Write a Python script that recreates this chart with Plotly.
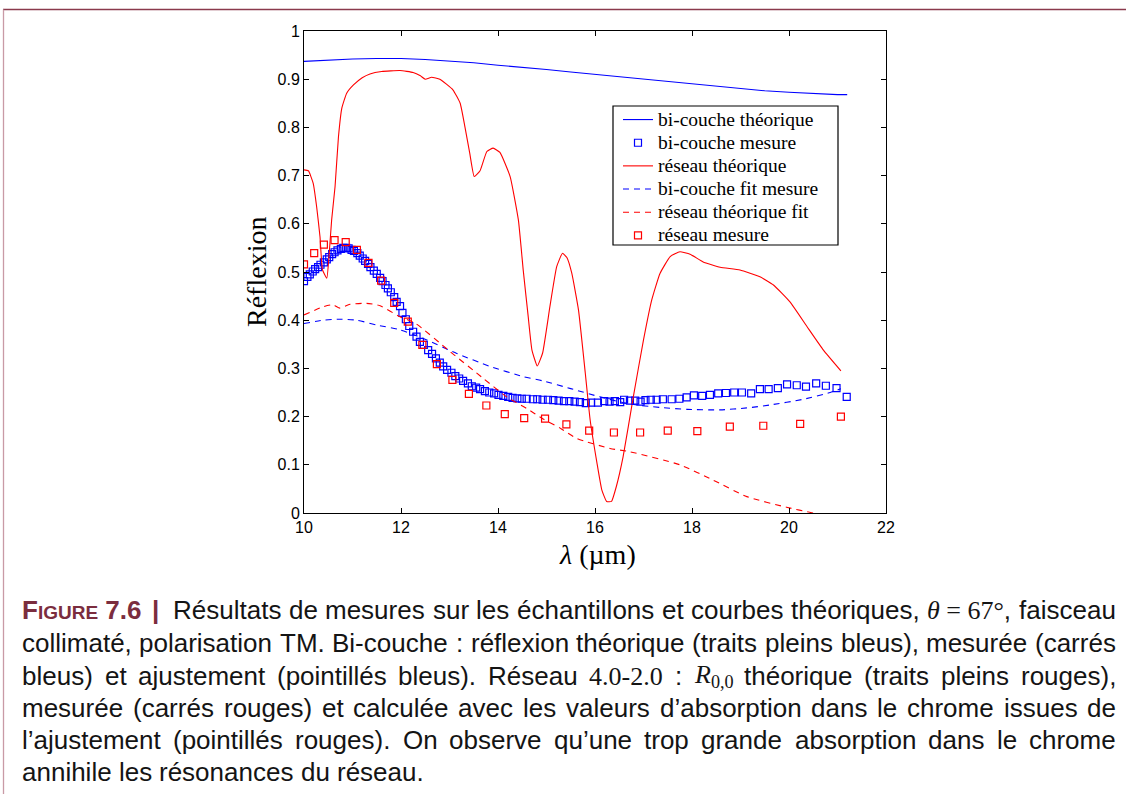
import plotly.graph_objects as go

# ---------------- data ----------------
x_tick_vals = [10, 12, 14, 16, 18, 20, 22]
x_tick_text = ["10", "12", "14", "16", "18", "20", "22"]
y_tick_vals = [0, 0.1, 0.2, 0.3, 0.4, 0.5, 0.6, 0.7, 0.8, 0.9, 1.0]
y_tick_text = ["0", "0.1", "0.2", "0.3", "0.4", "0.5", "0.6", "0.7", "0.8", "0.9", "1"]

# bi-couche théorique (blue solid)
bi_theo_x = [10.0, 10.5, 11.0, 11.5, 12.0, 12.5, 13.0, 13.5, 14.0, 14.5, 15.0, 15.5,
             16.0, 16.5, 17.0, 17.5, 18.0, 18.5, 19.0, 19.5, 20.0, 20.5, 21.0, 21.2]
bi_theo_y = [0.937, 0.940, 0.942, 0.943, 0.943, 0.941, 0.938, 0.934, 0.929, 0.925, 0.920, 0.915,
             0.910, 0.905, 0.900, 0.895, 0.890, 0.885, 0.880, 0.876, 0.873, 0.870, 0.868, 0.868]

# bi-couche mesure (blue squares)
bi_mes_x = [10.00, 10.07, 10.12, 10.18, 10.23, 10.29, 10.34, 10.41, 10.47, 10.52, 10.58, 10.63,
            10.69, 10.76, 10.81, 10.87, 10.92, 10.98, 11.03, 11.10, 11.15, 11.21, 11.26, 11.32,
            11.37, 11.44, 11.50, 11.57, 11.62, 11.68, 11.73, 11.79, 11.86, 11.91, 11.98, 12.03,
            12.10, 12.17, 12.25, 12.32, 12.39, 12.47, 12.56, 12.64, 12.72, 12.80, 12.87, 12.95,
            13.04, 13.12, 13.20, 13.28, 13.38, 13.46, 13.55, 13.63, 13.73, 13.82, 13.92, 14.01,
            14.11, 14.21, 14.30, 14.40, 14.49, 14.59, 14.72, 14.81, 14.92, 15.03, 15.14, 15.25,
            15.36, 15.47, 15.58, 15.69, 15.81, 15.92, 16.06, 16.19, 16.30, 16.41, 16.52, 16.60,
            16.72, 16.83, 16.94, 17.04, 17.15, 17.27, 17.40, 17.58, 17.74, 17.89, 18.04, 18.21,
            18.37, 18.54, 18.70, 18.87, 19.03, 19.22, 19.40, 19.58, 19.77, 19.96, 20.16, 20.35,
            20.56, 20.76, 20.98, 21.19]
bi_mes_y = [0.481, 0.490, 0.495, 0.501, 0.506, 0.510, 0.515, 0.520, 0.526, 0.531, 0.537, 0.541,
            0.545, 0.548, 0.550, 0.550, 0.549, 0.546, 0.544, 0.539, 0.534, 0.528, 0.523, 0.517,
            0.510, 0.503, 0.496, 0.488, 0.481, 0.473, 0.466, 0.458, 0.448, 0.438, 0.429, 0.415,
            0.402, 0.388, 0.376, 0.366, 0.355, 0.349, 0.338, 0.330, 0.321, 0.312, 0.304, 0.297,
            0.291, 0.284, 0.279, 0.274, 0.269, 0.263, 0.260, 0.257, 0.253, 0.250, 0.248, 0.245,
            0.243, 0.241, 0.239, 0.238, 0.237, 0.237, 0.236, 0.236, 0.235, 0.235, 0.234, 0.233,
            0.232, 0.232, 0.231, 0.230, 0.228, 0.229, 0.229, 0.232, 0.231, 0.232, 0.230, 0.235,
            0.233, 0.233, 0.231, 0.234, 0.235, 0.235, 0.236, 0.236, 0.237, 0.240, 0.244, 0.243,
            0.245, 0.248, 0.249, 0.250, 0.250, 0.248, 0.257, 0.257, 0.259, 0.267, 0.265, 0.262,
            0.269, 0.264, 0.259, 0.241]

# réseau théorique (red solid)
res_theo_x = [10.0, 10.09, 10.19, 10.26, 10.33, 10.38, 10.47, 10.52, 10.57, 10.64, 10.71, 10.78,
              10.88, 11.02, 11.2, 11.36, 11.6, 11.98, 12.25, 12.4, 12.5, 12.63, 12.8, 13.07,
              13.22, 13.32, 13.42, 13.51, 13.63, 13.77, 13.9, 14.04, 14.25, 14.42, 14.52, 14.62,
              14.7, 14.81, 14.92, 15.07, 15.21, 15.33, 15.42, 15.52, 15.66, 15.8, 15.9, 16.04,
              16.14, 16.24, 16.34, 16.44, 16.58, 16.79, 17.0, 17.17, 17.34, 17.55, 17.75, 17.96,
              18.23, 18.58, 18.99, 19.4, 19.68, 20.02, 20.37, 20.71, 21.07]
res_theo_y = [0.712, 0.710, 0.684, 0.636, 0.573, 0.505, 0.487, 0.539, 0.608, 0.677, 0.780, 0.840,
              0.871, 0.888, 0.903, 0.911, 0.916, 0.918, 0.914, 0.907, 0.900, 0.904, 0.900, 0.878,
              0.850, 0.800, 0.745, 0.698, 0.710, 0.750, 0.757, 0.748, 0.698, 0.608, 0.504, 0.410,
              0.338, 0.305, 0.332, 0.428, 0.511, 0.539, 0.530, 0.498, 0.421, 0.290, 0.193, 0.104,
              0.048, 0.024, 0.024, 0.055, 0.117, 0.241, 0.359, 0.442, 0.497, 0.532, 0.542, 0.537,
              0.521, 0.510, 0.504, 0.490, 0.473, 0.438, 0.387, 0.338, 0.295]

# bi-couche fit mesure (blue dashed)
bi_fit_x = [10.0, 10.4, 10.74, 11.09, 11.5, 11.98, 12.46, 13.15, 13.84, 14.52, 14.93, 15.5,
            16.1, 16.72, 17.34, 17.9, 18.58, 19.13, 19.6, 20.3, 20.85, 21.07]
bi_fit_y = [0.393, 0.400, 0.402, 0.400, 0.390, 0.380, 0.362, 0.331, 0.304, 0.283, 0.274, 0.258,
            0.241, 0.226, 0.219, 0.215, 0.214, 0.218, 0.224, 0.236, 0.250, 0.258]

# réseau théorique fit (red dashed)
res_fit_x = [10.0, 10.4, 10.6, 10.74, 10.95, 11.29, 11.57, 11.98, 12.29, 13.01, 13.7, 14.18,
             14.59, 14.93, 15.3, 15.62, 16.31, 16.72, 17.75, 18.44, 19.13, 19.95, 20.5, 20.9, 21.07]
res_fit_y = [0.411, 0.428, 0.432, 0.425, 0.433, 0.435, 0.430, 0.407, 0.394, 0.335, 0.279, 0.241,
             0.217, 0.195, 0.175, 0.155, 0.134, 0.127, 0.100, 0.068, 0.034, 0.012, 0.000, -0.005, -0.008]

# réseau mesure (red squares)
res_mes_x = [10.0, 10.21, 10.41, 10.63, 10.86, 11.09, 11.33, 11.59, 11.86, 12.14, 12.44, 12.74,
             13.06, 13.4, 13.76, 14.14, 14.54, 14.97, 15.41, 15.88, 16.39, 16.93, 17.5, 18.11,
             18.78, 19.47, 20.23, 21.07]
res_mes_y = [0.516, 0.539, 0.557, 0.566, 0.562, 0.546, 0.519, 0.482, 0.436, 0.397, 0.349, 0.309,
             0.276, 0.247, 0.223, 0.205, 0.197, 0.196, 0.184, 0.171, 0.167, 0.167, 0.171, 0.170,
             0.179, 0.181, 0.185, 0.200]

legend_names = ["bi-couche théorique", "bi-couche mesure", "réseau théorique",
                "bi-couche fit mesure", "réseau théorique fit", "réseau mesure"]

caption_text_lines = [
    "Résultats de mesures sur les échantillons et courbes théoriques, @THETA faisceau",
    "collimaté, polarisation TM. Bi-couche : réflexion théorique (traits pleins bleus), mesurée (carrés",
    "bleus) et ajustement (pointillés bleus). Réseau @GRID : @R00 théorique (traits pleins rouges),",
    "mesurée (carrés rouges) et calculée avec les valeurs d’absorption dans le chrome issues de",
    "l’ajustement (pointillés rouges). On observe qu’une trop grande absorption dans le chrome",
    "annihile les résonances du réseau.",
]
caption_y_px = [610, 643, 676, 708, 740, 772]
caption_justified = [True, True, True, True, True, False]

# ---------------- layout helpers (pixel -> paper) ----------------
W, H = 1126, 794
L, R, T, B = 304, 886, 31, 513


def px_x(p):
    return (p - L) / (R - L)


def px_y(p):
    return (B - p) / (B - T)


# Arial / Liberation Sans advance widths (1/1000 em)
ARIAL = {" ": 278, ",": 278, ".": 278, ":": 278, "-": 333, "(": 333, ")": 333, "’": 222, "|": 260,
         "0": 556, "1": 556, "2": 556, "3": 556, "4": 556, "5": 556, "6": 556, "7": 556, "8": 556, "9": 556,
         "a": 556, "b": 556, "c": 500, "d": 556, "e": 556, "f": 278, "g": 556, "h": 556, "i": 222,
         "j": 222, "k": 500, "l": 222, "m": 833, "n": 556, "o": 556, "p": 556, "q": 556, "r": 333,
         "s": 500, "t": 278, "u": 556, "v": 500, "w": 722, "x": 500, "y": 500, "z": 500,
         "é": 556, "è": 556, "ê": 556, "à": 556,
         "A": 667, "B": 667, "C": 722, "D": 722, "E": 667, "F": 611, "G": 778, "H": 722, "I": 278,
         "M": 833, "N": 722, "O": 778, "P": 667, "R": 722, "S": 667, "T": 611, "U": 722}
ARIAL_BOLD = {"F": 611, "I": 278, "G": 778, "U": 722, "R": 722, "E": 667, " ": 278, "7": 556,
              ".": 278, "6": 556, "|": 280}
TIMES = {"θ": 500, " ": 250, "=": 564, "6": 500, "7": 500, "°": 400, "4": 500, ".": 250,
         "0": 500, "-": 333, "2": 500, ",": 250, "R": 611}

CAP = 26.0
SC = 19.0  # small caps size


def w_sans(s, size=CAP):
    return sum(ARIAL.get(c, 556) for c in s) * size / 1000.0


SERIF = "font-family:'Liberation Serif'"
special_tokens = {
    "@THETA": ('<span style="%s"><i>θ</i> = 67°</span>,' % SERIF,
               sum(TIMES[c] for c in "θ = 67°") * CAP / 1000.0 + w_sans(",")),
    "@GRID": ('<span style="%s">4.0-2.0</span>' % SERIF,
              sum(TIMES[c] for c in "4.0-2.0") * CAP / 1000.0),
    "@R00": ('<span style="%s"><i>R</i><sub>0,0</sub></span>' % SERIF,
             (TIMES["R"] + 0.7 * sum(TIMES[c] for c in "0,0")) * CAP / 1000.0),
}

CAP_LEFT, CAP_RIGHT = 22, 1116
MAROON = "#7b2d3e"

label_html = ('<b><span style="color:%s">F<span style="font-size:%dpx">IGURE</span> 7.6</span></b>'
              % (MAROON, SC))
label_w = (ARIAL_BOLD["F"] * CAP + sum(ARIAL_BOLD[c] for c in "IGURE") * SC
           + sum(ARIAL_BOLD[c] for c in " 7.6") * CAP) / 1000.0
bar_html = '<b><span style="color:%s">|</span></b>' % MAROON
bar_w = ARIAL_BOLD["|"] * CAP / 1000.0 + 9.0  # includes extra air after the bar

BLUE = "#0000ff"
RED = "#ff0000"


def lname(s):
    return '<span style="font-size:19.5px">' + s + "</span>"


fig = go.Figure()
fig.add_trace(go.Scatter(x=bi_theo_x, y=bi_theo_y, mode="lines", name=lname(legend_names[0]),
                         line=dict(color=BLUE, width=1.1)))
fig.add_trace(go.Scatter(x=bi_mes_x, y=bi_mes_y, mode="markers", name=lname(legend_names[1]),
                         marker=dict(symbol="square-open", size=7, color=BLUE, line=dict(width=1.2))))
fig.add_trace(go.Scatter(x=res_theo_x, y=res_theo_y, mode="lines", name=lname(legend_names[2]),
                         line=dict(color=RED, width=1.1, shape="spline", smoothing=0.4)))
fig.add_trace(go.Scatter(x=bi_fit_x, y=bi_fit_y, mode="lines", name=lname(legend_names[3]),
                         line=dict(color=BLUE, width=1.1, dash="6px,5px", shape="spline", smoothing=0.6)))
fig.add_trace(go.Scatter(x=res_fit_x, y=res_fit_y, mode="lines", name=lname(legend_names[4]),
                         line=dict(color=RED, width=1.1, dash="6px,5px", shape="spline", smoothing=0.6)))
fig.add_trace(go.Scatter(x=res_mes_x, y=res_mes_y, mode="markers", name=lname(legend_names[5]),
                         marker=dict(symbol="square-open", size=7, color=RED, line=dict(width=1.2))))

axis_common = dict(showline=True, linecolor="black", linewidth=1, mirror="ticks", ticks="inside",
                   ticklen=5, tickcolor="black", tickwidth=1, showgrid=False, zeroline=False,
                   tickfont=dict(family="Liberation Sans, Arial", size=16, color="black"))

fig.update_xaxes(range=[10, 22], tickvals=x_tick_vals, ticktext=x_tick_text, **axis_common)
fig.update_yaxes(range=[0, 1], tickvals=y_tick_vals, ticktext=y_tick_text, **axis_common)

annotations = [
    dict(text="Réflexion", x=px_x(256), y=px_y(272), xref="paper", yref="paper", showarrow=False,
         textangle=-90, font=dict(family="Liberation Serif", size=28, color="black"),
         xanchor="center", yanchor="middle"),
    dict(text="<i>λ</i> (µm)", x=px_x(597), y=px_y(554), xref="paper", yref="paper", showarrow=False,
         font=dict(family="Liberation Serif", size=28, color="black"), xanchor="center", yanchor="middle"),
]

# caption: words placed individually to reproduce the justified paragraph
for i, (line, ypx, just) in enumerate(zip(caption_text_lines, caption_y_px, caption_justified)):
    toks = []
    if i == 0:
        toks.append((label_html, label_w))
        toks.append((bar_html, bar_w))
    for word in line.split(" "):
        if word in special_tokens:
            toks.append(special_tokens[word])
        else:
            toks.append((word, w_sans(word)))
    total = sum(w for _, w in toks)
    if just and len(toks) > 1:
        gap = (CAP_RIGHT - CAP_LEFT - total) / (len(toks) - 1)
        gap = max(gap, 3.0)
    else:
        gap = w_sans(" ")
    xpos = CAP_LEFT
    for j, (html, w) in enumerate(toks):
        xx = xpos
        if i == 0 and j == 1:
            xx += 3
        annotations.append(dict(text=html, x=px_x(xx), y=px_y(ypx), xref="paper", yref="paper",
                                showarrow=False, xanchor="left", yanchor="middle", align="left",
                                borderpad=0, borderwidth=0,
                                font=dict(family="Liberation Sans, Arial", size=CAP, color="#141414")))
        xpos += w + gap

shapes = [
    # legend box
    dict(type="rect", xref="paper", yref="paper", x0=px_x(613), x1=px_x(838), y0=px_y(106), y1=px_y(245),
         line=dict(color="black", width=1.2), fillcolor="rgba(0,0,0,0)"),
    # page frame lines
    dict(type="line", xref="paper", yref="paper", x0=px_x(3), x1=px_x(1126), y0=px_y(9.5), y1=px_y(9.5),
         line=dict(color="#8a3a4c", width=1.3)),
    dict(type="line", xref="paper", yref="paper", x0=px_x(3.5), x1=px_x(3.5), y0=px_y(9.5), y1=px_y(794),
         line=dict(color="#c99aa6", width=1.3)),
]

fig.update_layout(
    width=W, height=H,
    margin=dict(l=L, r=W - R, t=T, b=H - B, pad=0),
    paper_bgcolor="white", plot_bgcolor="white",
    showlegend=True,
    legend=dict(x=px_x(618), y=px_y(103), xanchor="left", yanchor="top",
                bgcolor="rgba(0,0,0,0)", borderwidth=0,
                font=dict(family="Liberation Serif", size=15.5, color="black"),
                itemwidth=30),
    annotations=annotations,
    shapes=shapes,
)

fig.write_html("out.html", config={"displayModeBar": False},
               post_script="document.body.style.margin='0';")
